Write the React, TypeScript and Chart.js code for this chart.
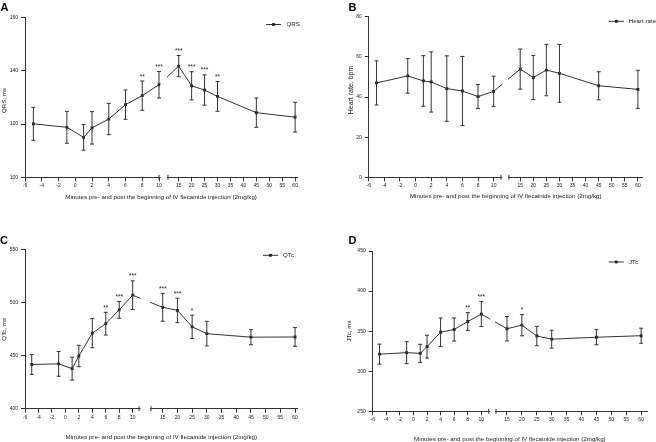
import React, { useEffect, useRef } from "react";
import { Chart, registerables } from "chart.js";
Chart.register(...registerables);

// ---------- data ----------
const minutes = [-5, -1, 1, 2, 4, 6, 8, 10, 15, 20, 25, 30, 45, 60];
const leftTickMinutes = [-6, -4, -2, 0, 2, 4, 6, 8, 10];
const rightTickMinutes = [15, 20, 25, 30, 35, 40, 45, 50, 55, 60];

const qrsMean = [120.1, 118.8, 115.0, 118.6, 121.9, 127.3, 130.7, 134.8, 141.8, 134.4, 132.8, 130.4, 124.3, 122.6];
const qrsErr = [6.2, 6.0, 4.8, 6.1, 5.9, 5.5, 5.5, 5.0, 4.0, 5.3, 5.7, 5.6, 5.5, 5.6];
const qrsStars = ["", "", "", "", "", "", "**", "***", "***", "***", "***", "**", "", ""];

const hrMean = [47.0, 50.5, 48.0, 47.5, 44.2, 43.0, 40.2, 42.8, 53.9, 49.7, 53.4, 51.8, 45.6, 43.8];
const hrErr = [11.0, 8.6, 12.6, 15.0, 16.3, 17.2, 6.0, 7.6, 10.0, 11.0, 12.8, 14.4, 7.0, 9.5];
const hrStars = ["", "", "", "", "", "", "", "", "", "", "", "", "", ""];

const qtcMean = [441.6, 442.2, 437.7, 449.6, 471.1, 480.0, 493.0, 506.8, 495.4, 492.5, 477.0, 470.6, 467.3, 467.5];
const qtcErr = [9.3, 11.7, 10.8, 10.1, 13.7, 10.7, 7.9, 13.5, 13.1, 11.5, 11.0, 11.6, 7.1, 8.8];
const qtcStars = ["", "", "", "", "", "**", "***", "***", "***", "***", "*", "", "", ""];

const jtcMean = [321.3, 323.2, 322.3, 330.7, 348.6, 352.1, 362.0, 371.3, 353.0, 357.5, 343.9, 340.0, 342.4, 344.3];
const jtcErr = [12.5, 13.7, 11.3, 14.2, 17.9, 14.4, 11.1, 15.6, 15.2, 13.3, 12.1, 11.2, 9.4, 9.4];
const jtcStars = ["", "", "", "", "", "", "**", "***", "", "*", "", "", "", ""];

const xTitle = "Minutes pre- and post the beginning of IV flecainide injection (2mg/kg)";

// ---------- panel layout ----------
type Panel = {
  letter: string;
  label: string;
  yTitle: string;
  yTitleSize: number;
  mean: number[];
  err: number[];
  stars: string[];
  yMin: number;
  yMax: number;
  yStep: number;
  canvas: { left: number; top: number; w: number; h: number };
  area: { left: number; top: number; right: number; bottom: number };
  brk: { leftEnd: number; rightStart: number; p15: number; k: number; xMax: number };
  xTitleY: number;
  yTitlePos: { x: number; y: number };
  legend: { x1: number; x2: number; tx: number; y: number };
  letterPos: { x: number; y: number };
};

const panels: Panel[] = [
  {
    letter: "A", label: "QRS", yTitle: "QRS, ms", yTitleSize: 6.2, mean: qrsMean, err: qrsErr, stars: qrsStars,
    yMin: 100, yMax: 160, yStep: 20,
    canvas: { left: 0, top: 0, w: 328, h: 221 },
    area: { left: 25, top: 17.7, right: 297.2, bottom: 177.3 },
    brk: { leftEnd: 10, rightStart: 11.07, p15: 12.35, k: 0.309, xMax: 26.5 },
    xTitleY: 197, yTitlePos: { x: 4, y: 100.5 },
    legend: { x1: 266, x2: 281, tx: 286.5, y: 24.5 }, letterPos: { x: 0.5, y: 10.7 },
  },
  {
    letter: "B", label: "Heart rate", yTitle: "Heart rate, bpm", yTitleSize: 7, mean: hrMean, err: hrErr, stars: hrStars,
    yMin: 0, yMax: 80, yStep: 20,
    canvas: { left: 328, top: 0, w: 328, h: 221 },
    area: { left: 40.7, top: 16.7, right: 314.8, bottom: 177.3 },
    brk: { leftEnd: 10.93, rightStart: 11.96, p15: 13.4, k: 0.335, xMax: 29.1 },
    xTitleY: 196.7, yTitlePos: { x: 23, y: 90 },
    legend: { x1: 280.7, x2: 296, tx: 300.7, y: 21.3 }, letterPos: { x: 20.5, y: 10.7 },
  },
  {
    letter: "C", label: "QTc", yTitle: "QTc, ms", yTitleSize: 6.2, mean: qtcMean, err: qtcErr, stars: qtcStars,
    yMin: 400, yMax: 550, yStep: 50,
    canvas: { left: 0, top: 221, w: 328, h: 221 },
    area: { left: 25, top: 28.3, right: 297.6, bottom: 187.7 },
    brk: { leftEnd: 10.94, rightStart: 12.72, p15: 14.46, k: 0.437, xMax: 34.5 },
    xTitleY: 216.7, yTitlePos: { x: 4, y: 108.3 },
    legend: { x1: 263, x2: 278, tx: 283, y: 34.3 }, letterPos: { x: 0, y: 22.7 },
  },
  {
    letter: "D", label: "JTc", yTitle: "JTc, ms", yTitleSize: 6.2, mean: jtcMean, err: jtcErr, stars: jtcStars,
    yMin: 250, yMax: 450, yStep: 50,
    canvas: { left: 328, top: 221, w: 328, h: 221 },
    area: { left: 44.7, top: 30, right: 319, bottom: 190.3 },
    brk: { leftEnd: 11.08, rightStart: 12.16, p15: 13.78, k: 0.439, xMax: 34.4 },
    xTitleY: 218.3, yTitlePos: { x: 21.3, y: 110 },
    legend: { x1: 280.7, x2: 295.7, tx: 301, y: 41 }, letterPos: { x: 20.5, y: 23.3 },
  },
];

const FONT = "'Liberation Sans', Arial, Helvetica, sans-serif";
const TICK_SIZE = 5;
const TITLE_SIZE = 6.2;
const INK = "#222";
const LINE = "#333";

function PanelChart({ p }: { p: Panel }) {
  const ref = useRef<HTMLCanvasElement | null>(null);
  useEffect(() => {
    const canvas = ref.current;
    if (!canvas) return;
    const b = p.brk;
    const pos = (m: number) => (m <= 10 ? m : b.p15 + (m - 15) * b.k);
    const tickMinutes = [...leftTickMinutes, ...rightTickMinutes];
    const tickValues = tickMinutes.map(pos);
    const tickLabels = tickMinutes.map((m) => String(m));
    const titleLH = TITLE_SIZE * 1.2;
    const xScaleH = p.xTitleY + titleLH / 2 - p.area.bottom;
    const padBottom = p.canvas.h - (p.xTitleY + titleLH / 2);

    const overlay = {
      id: "overlay",
      afterDatasetsDraw(chart: any) {
        const ctx = chart.ctx as CanvasRenderingContext2D;
        const xs = chart.scales.x;
        const ys = chart.scales.y;
        const ca = chart.chartArea;
        const lp = xs.getPixelForValue(b.leftEnd);
        const rp = xs.getPixelForValue(b.rightStart);
        ctx.save();
        // axis break gap
        ctx.fillStyle = "#fff";
        ctx.fillRect(lp + 1.5, ca.top - 2, rp - lp - 2.5, ca.bottom - ca.top + 4);
        ctx.strokeStyle = LINE;
        ctx.lineWidth = 1;
        ctx.beginPath();
        ctx.moveTo(lp, ca.bottom - 2.5);
        ctx.lineTo(lp, ca.bottom + 2.5);
        ctx.moveTo(rp, ca.bottom - 2.5);
        ctx.lineTo(rp, ca.bottom + 2.5);
        ctx.stroke();
        // error bars
        ctx.strokeStyle = LINE;
        ctx.beginPath();
        for (let i = 0; i < minutes.length; i++) {
          const x = xs.getPixelForValue(pos(minutes[i]));
          const yt = ys.getPixelForValue(p.mean[i] + p.err[i]);
          const yb = ys.getPixelForValue(p.mean[i] - p.err[i]);
          ctx.moveTo(x, yt);
          ctx.lineTo(x, yb);
          ctx.moveTo(x - 2, yt);
          ctx.lineTo(x + 2, yt);
          ctx.moveTo(x - 2, yb);
          ctx.lineTo(x + 2, yb);
        }
        ctx.stroke();
        // significance stars
        ctx.fillStyle = INK;
        ctx.font = `6.5px ${FONT}`;
        ctx.textAlign = "center";
        ctx.textBaseline = "alphabetic";
        for (let i = 0; i < minutes.length; i++) {
          if (!p.stars[i]) continue;
          const x = xs.getPixelForValue(pos(minutes[i]));
          const yt = ys.getPixelForValue(p.mean[i] + p.err[i]);
          ctx.fillText(p.stars[i], x, yt - 2.5);
        }
        // legend
        const L = p.legend;
        ctx.beginPath();
        ctx.moveTo(L.x1, L.y);
        ctx.lineTo(L.x2, L.y);
        ctx.stroke();
        ctx.fillStyle = INK;
        ctx.fillRect((L.x1 + L.x2) / 2 - 1.4, L.y - 1.4, 2.8, 2.8);
        ctx.font = `${TITLE_SIZE}px ${FONT}`;
        ctx.textAlign = "left";
        ctx.textBaseline = "middle";
        ctx.fillText(p.label, L.tx, L.y);
        // y title
        ctx.save();
        ctx.font = `${p.yTitleSize}px ${FONT}`;
        ctx.translate(p.yTitlePos.x, p.yTitlePos.y);
        ctx.rotate(-Math.PI / 2);
        ctx.textAlign = "center";
        ctx.textBaseline = "middle";
        ctx.fillText(p.yTitle, 0, 0);
        ctx.restore();
        // panel letter
        ctx.font = `bold 11px ${FONT}`;
        ctx.textAlign = "left";
        ctx.textBaseline = "alphabetic";
        ctx.fillStyle = "#000";
        ctx.fillText(p.letter, p.letterPos.x, p.letterPos.y);
        ctx.restore();
      },
    };

    const chart = new Chart(canvas, {
      type: "line",
      data: {
        datasets: [
          {
            label: p.label,
            data: minutes.map((m, i) => ({ x: pos(m), y: p.mean[i] })),
            borderColor: LINE,
            backgroundColor: INK,
            borderWidth: 1,
            pointStyle: "rect",
            pointRadius: 2,
            pointBorderWidth: 0,
            pointBackgroundColor: INK,
            tension: 0,
          },
        ],
      },
      options: {
        responsive: false,
        animation: false,
        events: [],
        layout: {
          padding: {
            left: 0,
            top: p.area.top,
            right: p.canvas.w - p.area.right,
            bottom: padBottom,
          },
        },
        plugins: { legend: { display: false }, tooltip: { enabled: false } },
        scales: {
          x: {
            type: "linear",
            min: -6,
            max: b.xMax,
            afterBuildTicks: (s: any) => {
              s.ticks = tickValues.map((v) => ({ value: v }));
            },
            afterFit: (s: any) => {
              s.height = xScaleH;
            },
            ticks: {
              autoSkip: false,
              maxRotation: 0,
              minRotation: 0,
              padding: 1.5,
              color: INK,
              font: { family: FONT, size: TICK_SIZE },
              callback: (_v: any, i: number) => tickLabels[i],
            },
            grid: { drawOnChartArea: false, drawTicks: true, tickLength: 4, color: LINE, lineWidth: 1 },
            border: { display: true, color: LINE, width: 1 },
            title: {
              display: true,
              text: xTitle,
              color: INK,
              padding: 0,
              font: { family: FONT, size: TITLE_SIZE },
            },
          },
          y: {
            type: "linear",
            min: p.yMin,
            max: p.yMax,
            afterFit: (s: any) => {
              s.width = p.area.left;
            },
            ticks: {
              stepSize: p.yStep,
              padding: 3,
              color: INK,
              font: { family: FONT, size: TICK_SIZE },
            },
            grid: { drawOnChartArea: false, drawTicks: true, tickLength: 4, color: LINE, lineWidth: 1 },
            border: { display: true, color: LINE, width: 1 },
          },
        },
      } as any,
      plugins: [overlay],
    });
    return () => chart.destroy();
  }, [p]);
  return (
    <canvas
      ref={ref}
      width={p.canvas.w}
      height={p.canvas.h}
      style={{
        position: "absolute",
        left: p.canvas.left,
        top: p.canvas.top,
        width: p.canvas.w,
        height: p.canvas.h,
      }}
    />
  );
}

export default function App() {
  return (
    <div
      style={{
        position: "absolute",
        left: 0,
        top: 0,
        width: 656,
        height: 442,
        background: "#fff",
        overflow: "hidden",
      }}
    >
      {panels.map((p) => (
        <PanelChart key={p.letter} p={p} />
      ))}
    </div>
  );
}
